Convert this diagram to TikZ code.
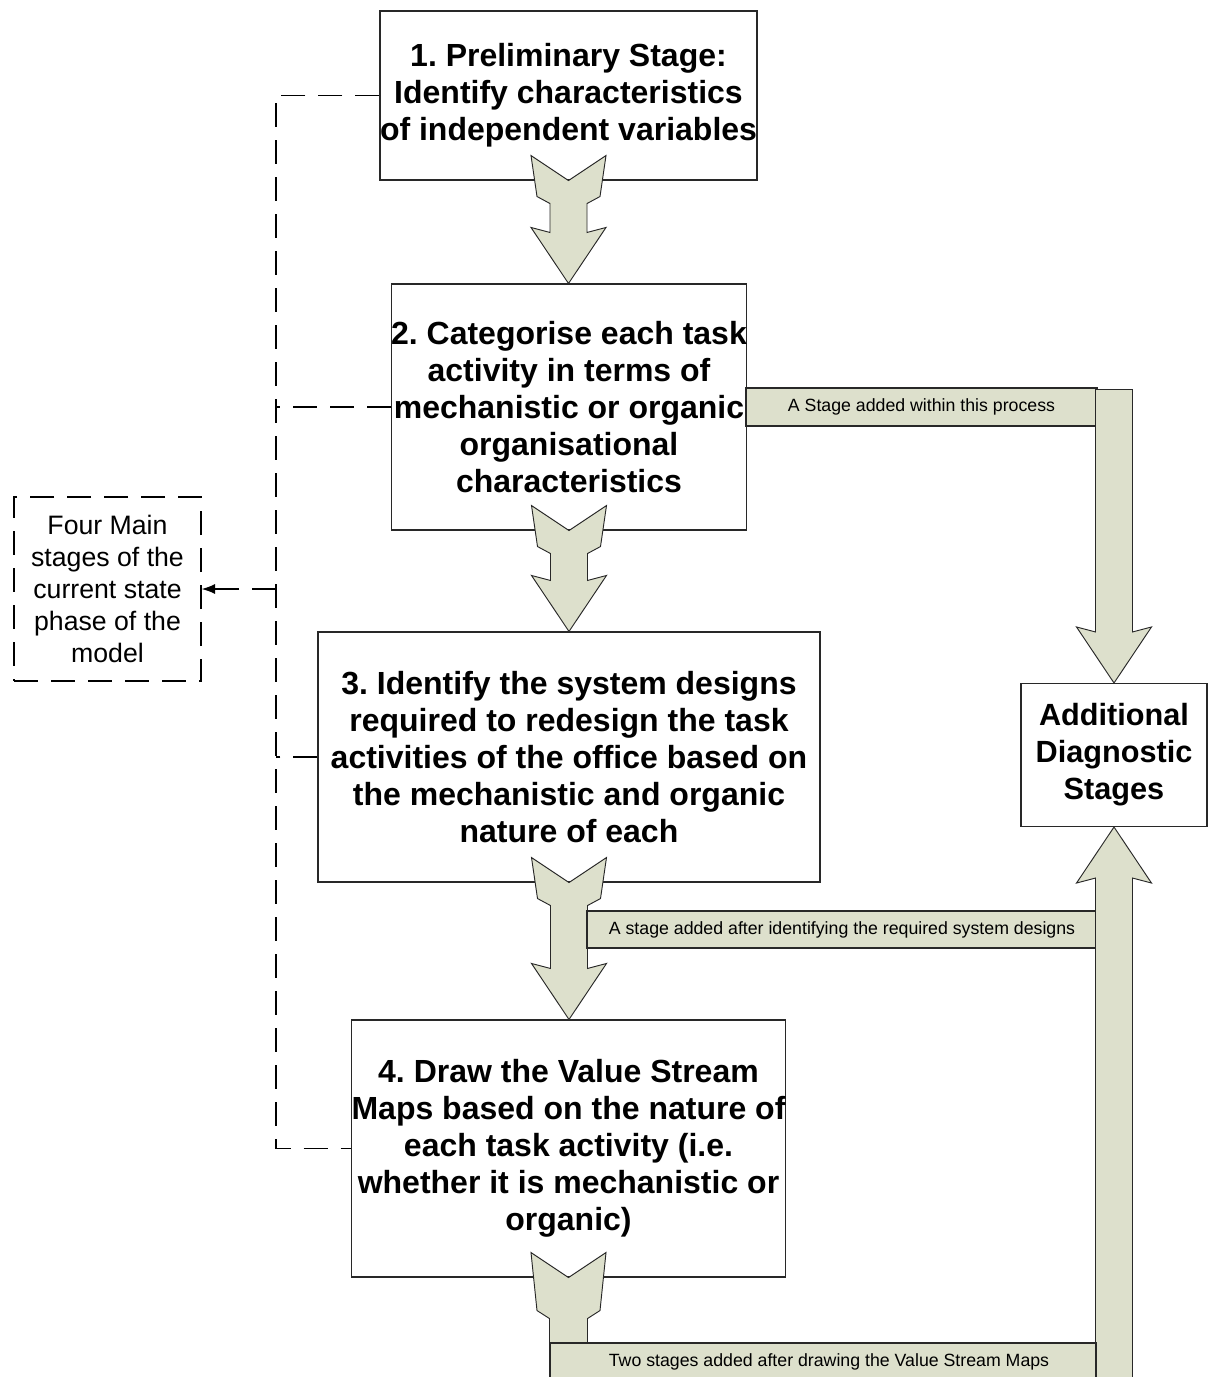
\documentclass[tikz,border=0pt]{standalone}
\usepackage{fontspec}
\setmainfont{Liberation Sans}
\usetikzlibrary{calc,arrows.meta}
\definecolor{arrowfill}{RGB}{221,224,204}
\definecolor{edge}{RGB}{40,40,40}
\frenchspacing

% notched block arrow from the bottom of one box to the top of another
\newcommand\blockarrow[2]{%
  \path[blockarrow] let \p1=(#1.south), \p2=(#2.north) in
    (\x1-28.125pt,\y1+18.75pt) -- (\x1,\y1) -- (\x1+28.125pt,\y1+18.75pt)
    -- (\x1+23.625pt,\y1-12pt) -- (\x1+13.875pt,\y1-17.25pt)
    -- (\x1+13.875pt,\y2+38.25pt) -- (\x1+28.125pt,\y2+42pt) -- (\x1,\y2)
    -- (\x1-28.125pt,\y2+42pt) -- (\x1-13.875pt,\y2+38.25pt)
    -- (\x1-13.875pt,\y1-17.25pt) -- (\x1-23.625pt,\y1-12pt) -- cycle;}

\begin{document}
\begin{tikzpicture}[x=0.75pt,y=-0.75pt,
  stagebox/.style={draw=edge,line width=0.8pt,fill=white,align=center,inner sep=0pt,
    font=\fontsize{24}{27.75}\selectfont\bfseries},
  notebox/.style={draw=black,line width=1pt,dash pattern=on 18pt off 9.75pt,align=center,
    inner sep=0pt,font=\fontsize{20}{24}\selectfont},
  blockarrow/.style={draw=edge,line width=0.7pt,fill=arrowfill,line join=miter},
  band/.style={draw=edge,line width=0.8pt,fill=arrowfill,inner sep=0pt,
    font=\fontsize{13.3}{16}\selectfont},
  guide/.style={draw=black,line width=1pt,dash pattern=on 18pt off 9.75pt}]
\useasboundingbox (0,0) rectangle (1208,1377);

% main stage boxes
\node[stagebox,minimum width=282.75pt,minimum height=126.75pt] (b1) at (568.5,95.5)
  {1. Preliminary Stage:\\Identify characteristics\\of independent variables};
\node[stagebox,minimum width=265.5pt,minimum height=184.5pt] (b2) at (569,407)
  {2. Categorise each task\\activity in terms of\\mechanistic or organic\\organisational\\characteristics};
\node[stagebox,minimum width=376.5pt,minimum height=187.5pt] (b3) at (569,757)
  {3. Identify the system designs\\required to redesign the task\\activities of the office based on\\the mechanistic and organic\\nature of each};
\node[stagebox,minimum width=324.75pt,minimum height=192.75pt] (b4) at (568.5,1148.5)
  {4. Draw the Value Stream\\Maps based on the nature of\\each task activity (i.e.\\whether it is mechanistic or\\organic)};
\node[stagebox,minimum width=139.5pt,minimum height=107.25pt,
  font=\fontsize{23}{27.75}\selectfont\bfseries] (add) at (1114,755)
  {Additional\\Diagnostic\\Stages};

% side note
\node[notebox,minimum width=140.25pt,minimum height=138pt] (note) at (107.5,589)
  {Four Main\\stages of the\\current state\\phase of the\\model};

% dashed bracket grouping the four main stages
\coordinate (spine) at (276,0);
\draw[guide] (b1.west) -- (b1.west -| spine) -- (b4.west -| spine) -- (b4.west);
\draw[guide] (b2.west) -- (b2.west -| spine);
\draw[guide] (b3.west) -- (b3.west -| spine);
\coordinate (notefrom) at (276,589);
\draw[guide,-{Latex[length=10pt,width=7.5pt]}] (notefrom) -- (note.east);

% flow between the main stages
\blockarrow{b1}{b2}
\blockarrow{b2}{b3}
\blockarrow{b3}{b4}

% stage added within stage 2
\node[band,minimum width=263.25pt,minimum height=28.5pt] (band1) at (921.5,407)
  {A Stage added within this process};
\path[blockarrow] let \p1=(add.north), \p3=(band1.north east) in
  (\x1-13.875pt,\y3-1.5pt) -- (\x1-13.875pt,\y1+38.25pt) -- (\x1-28.125pt,\y1+42pt)
  -- (\x1,\y1) -- (\x1+28.125pt,\y1+42pt) -- (\x1+13.875pt,\y1+38.25pt)
  -- (\x1+13.875pt,\y3-1.5pt) -- cycle;

% stage added after stage 3
\node[band,minimum width=382.5pt,minimum height=27.75pt] (band2) at (842,929.5)
  {A stage added after identifying the required system designs};

% stages added after stage 4
\path[blockarrow] let \p1=(b4.south) in
  (\x1-28.125pt,\y1+18.75pt) -- (\x1,\y1) -- (\x1+28.125pt,\y1+18.75pt)
  -- (\x1+23.625pt,\y1-24.75pt) -- (\x1+14.25pt,\y1-30.75pt) -- (\x1+14.25pt,\y1-55pt)
  -- (\x1-14.25pt,\y1-55pt) -- (\x1-14.25pt,\y1-30.75pt) -- (\x1-23.625pt,\y1-24.75pt) -- cycle;
\path[blockarrow] let \p1=(add.south) in
  (\x1-13.875pt,-1060pt) -- (\x1-13.875pt,\y1-38.25pt) -- (\x1-28.125pt,\y1-42pt)
  -- (\x1,\y1) -- (\x1+28.125pt,\y1-42pt) -- (\x1+13.875pt,\y1-38.25pt)
  -- (\x1+13.875pt,-1060pt) -- cycle;
\node[band,minimum width=409.5pt,minimum height=28.5pt] (band3) at (823,1362)
  {\hspace*{9pt}Two stages added after drawing the Value Stream Maps};
\end{tikzpicture}
\end{document}
